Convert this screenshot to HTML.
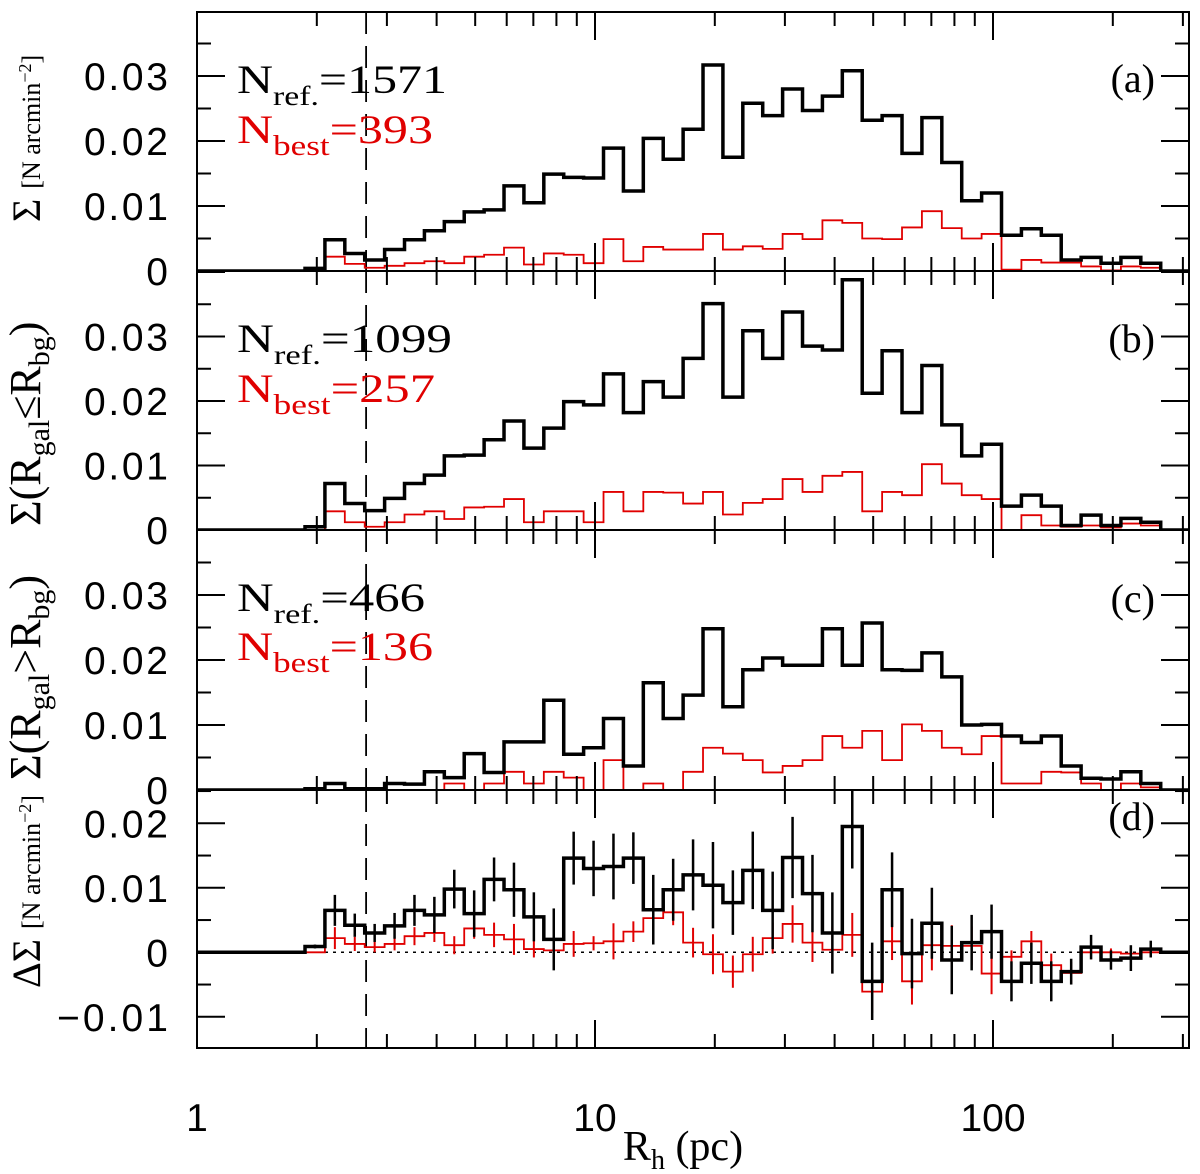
<!DOCTYPE html>
<html><head><meta charset="utf-8"><title>Surface density vs half-light radius histograms</title>
<style>
html,body{margin:0;padding:0;background:#fff;}
svg{display:block;font-family:"Liberation Sans",sans-serif;}
</style></head>
<body>
<svg id="chart" width="1200" height="1174" viewBox="0 0 1200 1174" xmlns="http://www.w3.org/2000/svg">
<defs>
<clipPath id="clipA"><rect x="197" y="12" width="992" height="259"/></clipPath>
<clipPath id="clipB"><rect x="197" y="271" width="992" height="259"/></clipPath>
<clipPath id="clipC"><rect x="197" y="530" width="992" height="260"/></clipPath>
<clipPath id="clipD"><rect x="197" y="790" width="992" height="258"/></clipPath>
</defs>
<g id="marks"></g>
<g id="axes"></g>
<g font-family="'Liberation Serif', serif">
<text x="237" y="93" font-size="40" fill="#000" textLength="210" lengthAdjust="spacingAndGlyphs">N<tspan font-size="27" dy="12">ref.</tspan><tspan dy="-12">=1571</tspan></text>
<text x="237" y="143" font-size="40" fill="#e00000" textLength="196" lengthAdjust="spacingAndGlyphs">N<tspan font-size="28" dy="12">best</tspan><tspan dy="-12">=393</tspan></text>
<text x="1155" y="92" font-size="40" text-anchor="end">(a)</text>
</g>
<g font-family="'Liberation Serif', serif">
<text x="237" y="352" font-size="40" fill="#000" textLength="215" lengthAdjust="spacingAndGlyphs">N<tspan font-size="27" dy="12">ref.</tspan><tspan dy="-12">=1099</tspan></text>
<text x="237" y="402" font-size="40" fill="#e00000" textLength="198" lengthAdjust="spacingAndGlyphs">N<tspan font-size="28" dy="12">best</tspan><tspan dy="-12">=257</tspan></text>
<text x="1155" y="352" font-size="40" text-anchor="end">(b)</text>
</g>
<g font-family="'Liberation Serif', serif">
<text x="237" y="611" font-size="40" fill="#000" textLength="188" lengthAdjust="spacingAndGlyphs">N<tspan font-size="27" dy="12">ref.</tspan><tspan dy="-12">=466</tspan></text>
<text x="237" y="660" font-size="40" fill="#e00000" textLength="196" lengthAdjust="spacingAndGlyphs">N<tspan font-size="28" dy="12">best</tspan><tspan dy="-12">=136</tspan></text>
<text x="1155" y="612" font-size="40" text-anchor="end">(c)</text>
</g>
<g font-family="'Liberation Serif', serif">
<text x="1155" y="830" font-size="40" text-anchor="end">(d)</text>
</g>
<g font-family="'Liberation Serif', serif" font-weight="normal">
<text transform="translate(40,222) rotate(-90)" font-size="40">Σ <tspan font-size="26">[N arcmin<tspan dy="-9" font-size="18">−2</tspan><tspan dy="9">]</tspan></tspan></text>
<text transform="translate(40,526) rotate(-90)" font-size="44">Σ(R<tspan font-size="30" dy="9">gal</tspan><tspan dy="-9">≤R</tspan><tspan font-size="30" dy="9">bg</tspan><tspan dy="-9">)</tspan></text>
<text transform="translate(40,780) rotate(-90)" font-size="44">Σ(R<tspan font-size="30" dy="9">gal</tspan><tspan dy="-9">&gt;R</tspan><tspan font-size="30" dy="9">bg</tspan><tspan dy="-9">)</tspan></text>
<text transform="translate(40,988) rotate(-90)" font-size="40">ΔΣ <tspan font-size="26">[N arcmin<tspan dy="-9" font-size="18">−2</tspan><tspan dy="9">]</tspan></tspan></text>
</g>
<text x="683" y="1160" font-size="42" text-anchor="middle" font-family="'Liberation Serif', serif">R<tspan font-size="28" dy="9">h</tspan><tspan dy="-9"> (pc)</tspan></text>
</svg>
<script>
const binFirstEdgeLog = 0.2714;
const binWidthLog = 0.05;
const aBlack = [0.0004,0.0048,0.0027,0.0017,0.0033,0.0048,0.0062,0.0076,0.0091,0.0094,0.0131,0.0105,0.0149,0.0144,0.0143,0.0189,0.0123,0.0204,0.0172,0.0218,0.0317,0.0175,0.0258,0.0239,0.0280,0.0247,0.0269,0.0308,0.0232,0.0239,0.0181,0.0236,0.0167,0.0108,0.0120,0.0055,0.0065,0.0055,0.0017,0.0021,0.0012,0.0021,0.0012];
const aRed = [0,0.0022,0.0011,0.0005,0.0008,0.0012,0.0015,0.0012,0.0022,0.0025,0.0036,0.0010,0.0027,0.0025,0.0012,0.0049,0.0015,0.0037,0.0033,0.0033,0.0057,0.0033,0.0038,0.0034,0.0057,0.0049,0.0078,0.0074,0.0050,0.0049,0.0067,0.0092,0.0066,0.0050,0.0057,0.0002,0.0017,0.0013,0.0013,0.0007,0.0001,0.0007,0.0005];
const bBlack = [0.0005,0.0072,0.0041,0.0030,0.0049,0.0072,0.0085,0.0115,0.0116,0.0140,0.0169,0.0127,0.0158,0.0199,0.0194,0.0242,0.0182,0.0230,0.0206,0.0266,0.0351,0.0206,0.0309,0.0266,0.0338,0.0285,0.0279,0.0388,0.0212,0.0278,0.0182,0.0255,0.0163,0.0115,0.0133,0.0037,0.0054,0.0037,0.0007,0.0023,0.0007,0.0018,0.0012];
const bRed = [0,0.0029,0.0012,0.0005,0.0012,0.0024,0.0029,0.0017,0.0035,0.0036,0.0048,0.0012,0.0029,0.0029,0.0012,0.0059,0.0029,0.0059,0.0058,0.0041,0.0059,0.0024,0.0042,0.0048,0.0079,0.0059,0.0084,0.0090,0.0029,0.0059,0.0054,0.0102,0.0072,0.0054,0.0048,0,0.0023,0.0007,0.0005,0.0007,0.0004,0.0010,0.0007];
const cBlack = [0.0002,0.0010,0.0002,0.0002,0.0010,0.0009,0.0028,0.0019,0.0056,0.0027,0.0074,0.0074,0.0138,0.0055,0.0065,0.0110,0.0037,0.0165,0.0110,0.0146,0.0248,0.0128,0.0185,0.0203,0.0192,0.0192,0.0248,0.0192,0.0257,0.0185,0.0184,0.0211,0.0174,0.0100,0.0101,0.0083,0.0073,0.0083,0.0037,0.0018,0.0017,0.0028,0.0010];
const cRed = [0,0,0,0,0,0,0,0.0010,0,0.0010,0.0028,0.0010,0.0028,0.0019,0,0.0046,0,0.0010,0,0.0028,0.0065,0.0056,0.0046,0.0027,0.0037,0.0046,0.0083,0.0065,0.0091,0.0046,0.0101,0.0091,0.0065,0.0055,0.0083,0.0010,0.0010,0.0028,0.0027,0.0010,0,0.0010,0.0004];
const dBlack = [0.0009,0.0065,0.0042,0.0030,0.0041,0.0065,0.0058,0.0098,0.0060,0.0113,0.0097,0.0055,0.0020,0.0146,0.0130,0.0133,0.0146,0.0066,0.0097,0.0120,0.0104,0.0077,0.0127,0.0065,0.0147,0.0091,0.0030,0.0195,-0.0045,0.0097,-0.0002,0.0045,-0.0012,0.0015,0.0032,-0.0045,-0.0017,-0.0045,-0.0030,0.0008,-0.0012,-0.0009,0.0005];
const dBlackErr = [0.0003,0.0024,0.0018,0.0014,0.0020,0.0024,0.0028,0.0030,0.0036,0.0034,0.0042,0.0038,0.0048,0.0041,0.0043,0.0051,0.0040,0.0054,0.0048,0.0055,0.0067,0.0050,0.0060,0.0060,0.0063,0.0060,0.0063,0.0065,0.0060,0.0058,0.0054,0.0055,0.0053,0.0043,0.0042,0.0031,0.0032,0.0031,0.0020,0.0019,0.0015,0.0020,0.0013];
const dRed = [0,0.0022,0.0013,0.0008,0.0013,0.0025,0.0030,0.0011,0.0037,0.0027,0.0020,0.0005,0.0003,0.0013,0.0014,0.0017,0.0032,0.0053,0.0062,0.0015,-0.0003,-0.0030,-0.0003,0.0022,0.0044,0.0015,0.0004,0.0027,-0.0061,0.0017,-0.0045,0.0011,0.0010,0.0010,-0.0033,-0.0007,0.0017,-0.0020,-0.0032,0,0,-0.0002,0];
const dRedErr = [0,0.0017,0.0011,0.0008,0.0010,0.0014,0.0014,0.0014,0.0016,0.0019,0.0024,0.0013,0.0020,0.0020,0.0011,0.0028,0.0016,0.0020,0.0020,0.0023,0.0031,0.0025,0.0027,0.0024,0.0029,0.0030,0.0036,0.0034,0.0033,0.0029,0.0036,0.0039,0.0032,0.0030,0.0032,0.0010,0.0016,0.0018,0.0017,0.0011,0.0006,0.0010,0.0008];
const xTickLabels = ["1","10","100"];
const xTickLabelValues = [1,10,100];
const yTickLabelsTop = ["0","0.01","0.02","0.03"];
const yTickValuesTop = [0,0.01,0.02,0.03];
const yTickLabelsD = ["−0.01","0","0.01","0.02"];
const yTickValuesD = [-0.01,0,0.01,0.02];
const refRadius = 2.66;

const NS = "http://www.w3.org/2000/svg";
const X0 = 197, XR = 1189, DEC = 398;
function xScale(v){ return X0 + DEC*Math.log10(v); }
function xLog(l){ return X0 + DEC*l; }
const panels = [
  {key:"a", top:12, bot:271, zero:271, k:6500, clip:"clipA", black:aBlack, red:aRed},
  {key:"b", top:271, bot:530, zero:530, k:6450, clip:"clipB", black:bBlack, red:bRed},
  {key:"c", top:530, bot:790, zero:790, k:6500, clip:"clipC", black:cBlack, red:cRed},
  {key:"d", top:790, bot:1048, zero:952.3, k:6450, clip:"clipD", black:dBlack, red:dRed, bErr:dBlackErr, rErr:dRedErr}
];
const marks = document.getElementById("marks");
const axes = document.getElementById("axes");
function el(tag, attrs, parent){ const e=document.createElementNS(NS,tag); for(const k in attrs) e.setAttribute(k,attrs[k]); parent.appendChild(e); return e; }
function labelWidth(s){ let w=0; for(const c of s){ w += (c==="."?9:(c==="−"?27:25)); } return w; }

panels.forEach(p=>{
  const yS = v => p.zero - v*p.k;
  const g = el("g",{"clip-path":"url(#"+p.clip+")"},marks);
  
  
  if(p.key==="d"){
    const z = el("line",{x1:X0,x2:XR,y1:yS(0),y2:yS(0),stroke:"#000","stroke-width":1.5,"stroke-dasharray":"3,5"},g);
    
    
  }
  const dl = el("line",{x1:xScale(refRadius),x2:xScale(refRadius),y1:p.top,y2:p.bot,stroke:"#000","stroke-width":1.8,"stroke-dasharray":"22,12"},g);
  
  
  [["red",p.red,"#e00000",1.8,p.rErr,2],["black",p.black,"#000",3.5,p.bErr,2.5]].forEach(([nm,arr,col,w,err,ew])=>{
    let d = "M"+X0+","+yS(0)+" H"+xLog(binFirstEdgeLog);
    arr.forEach((v,i)=>{ d += " V"+yS(v)+" H"+xLog(binFirstEdgeLog+(i+1)*binWidthLog); });
    d += " V"+yS(0)+" H"+XR;
    const path = el("path",{d:d,fill:"none",stroke:col,"stroke-width":w,"stroke-linejoin":"miter"},g);
    
    
    if(err){
      arr.forEach((v,i)=>{
        if(!err[i]) return;
        const cx = xLog(binFirstEdgeLog+(i+0.5)*binWidthLog);
        const eb = el("line",{x1:cx,x2:cx,y1:yS(v-err[i]),y2:yS(v+err[i]),stroke:col,"stroke-width":ew},g);
        
        
      });
    }
  });
  const fr = el("rect",{x:X0,y:p.top,width:XR-X0,height:p.bot-p.top,fill:"none",stroke:"#000","stroke-width":2},axes);
  
  
  for(let dec=1; dec<=100; dec*=10){
    for(let m=1;m<=9;m++){
      const v=m*dec, x=xScale(v);
      if(x>XR) break;
      const L = m===1?28:14;
      el("line",{x1:x,x2:x,y1:p.bot,y2:p.bot-L,stroke:"#000","stroke-width":2},axes);
      el("line",{x1:x,x2:x,y1:p.top,y2:p.top+L,stroke:"#000","stroke-width":2},axes);
    }
  }
  for(let t=-0.02;t<=0.04;t+=0.005){
    const tv = Math.round(t*1000)/1000;
    const y = yS(tv);
    if(y<p.top+1 || y>p.bot-1) continue;
    const major = Math.abs(Math.round(tv*200))%2===0;
    const L = major?28:14;
    el("line",{x1:X0,x2:X0+L,y1:y,y2:y,stroke:"#000","stroke-width":2},axes);
    el("line",{x1:XR,x2:XR-L,y1:y,y2:y,stroke:"#000","stroke-width":2},axes);
  }
  const labs = p.key==="d"?yTickLabelsD:yTickLabelsTop;
  const vals = p.key==="d"?yTickValuesD:yTickValuesTop;
  labs.forEach((s,i)=>{
    const t = el("text",{x:168,y:yS(vals[i])+14,"font-size":39,"text-anchor":"end",textLength:labelWidth(s),lengthAdjust:"spacing"},axes);
    
    
    t.textContent = s;
  });
});
xTickLabels.forEach((s,i)=>{
  const t = el("text",{x:xScale(xTickLabelValues[i]),y:1131,"font-size":39,"text-anchor":"middle"},axes);
  
  
  t.textContent = s;
});
</script>
</body></html>
